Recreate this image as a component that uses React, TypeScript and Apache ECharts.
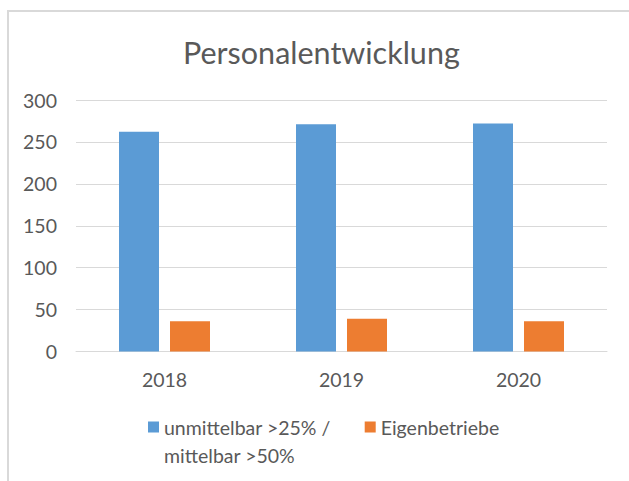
import React, { useEffect, useRef } from "react";
import * as echarts from "echarts";

const title = "Personalentwicklung";
const categories = ["2018", "2019", "2020"];
const seriesNames = ["unmittelbar >25% /\nmittelbar >50%", "Eigenbetriebe"];
const unmittelbar = [262, 271, 272];
const eigenbetriebe = [36, 39, 36];
const yTicks = { min: 0, max: 300, interval: 50 };

const FONT = "Lato, 'Open Sans', sans-serif";
const TEXT = "#595959";
const GRID = "#d9d9d9";
// square at the top of a taller icon box so it lines up with the first text line
const TOP_SQUARE = "path://M0,0H11V11H0Z M0,39H11";

export default function App() {
  const ref = useRef<HTMLDivElement>(null);
  useEffect(() => {
    if (!ref.current) return;
    const chart = echarts.init(ref.current, null, { renderer: "svg" });
    chart.setOption({
      animation: false,
      backgroundColor: "#ffffff",
      textStyle: { fontFamily: FONT },
      title: {
        text: title,
        left: 178,
        top: 31,
        textStyle: { fontFamily: FONT, fontSize: 30.5, fontWeight: "normal", color: TEXT },
      },
      graphic: [
        {
          type: "rect",
          shape: { x: 8, y: 11, width: 700, height: 600 },
          style: { fill: "none", stroke: GRID, lineWidth: 2 },
          silent: true,
        },
      ],
      legend: {
        left: 143,
        top: 408,
        itemWidth: 11,
        itemHeight: 39,
        itemGap: 34,
        icon: TOP_SQUARE,
        formatter: (name: string) => (name.indexOf("\n") >= 0 ? name : name + "\n "),
        textStyle: {
          fontFamily: FONT,
          fontSize: 19.5,
          color: TEXT,
          lineHeight: 28,
        },
        data: seriesNames,
      },
      grid: { left: 76, right: 22, top: 100, bottom: 129.5, containLabel: false },
      xAxis: {
        type: "category",
        data: categories,
        axisLine: { show: true, lineStyle: { color: GRID, width: 1 } },
        axisTick: { show: false },
        axisLabel: { margin: 18, fontFamily: FONT, fontSize: 19.5, color: TEXT },
      },
      yAxis: {
        type: "value",
        min: yTicks.min,
        max: yTicks.max,
        interval: yTicks.interval,
        axisLine: { show: false },
        axisTick: { show: false },
        splitLine: { lineStyle: { color: GRID, width: 1 } },
        axisLabel: { margin: 19, fontFamily: FONT, fontSize: 19.5, color: TEXT },
      },
      series: [
        {
          name: seriesNames[0],
          type: "bar",
          data: unmittelbar,
          barWidth: 40,
          barGap: "27.5%",
          itemStyle: { color: "#5b9bd5" },
        },
        {
          name: seriesNames[1],
          type: "bar",
          data: eigenbetriebe,
          barWidth: 40,
          barGap: "27.5%",
          itemStyle: { color: "#ed7d31" },
        },
      ],
    });
    return () => chart.dispose();
  }, []);
  return (
    <div
      ref={ref}
      style={{ position: "fixed", left: 0, top: 0, width: 629, height: 481 }}
    />
  );
}
